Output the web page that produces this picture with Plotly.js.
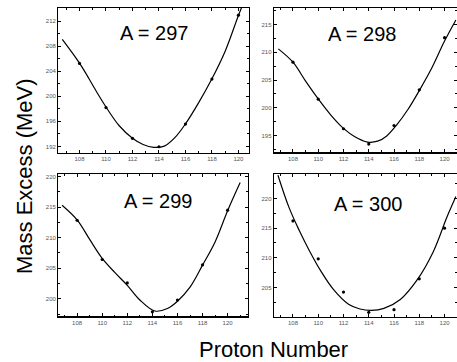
<!DOCTYPE html>
<html>
<head>
<meta charset="utf-8">
<script src="https://cdn.plot.ly/plotly-3.0.1.min.js"></script>
<style>html,body{margin:0;padding:0;overflow:hidden;background:#fff}</style>
</head>
<body>
<div id="chart" style="width:457px;height:362px"></div>
<script>
// Data points (proton number vs mass excess in MeV)
const protonNumbers = [108, 110, 112, 114, 116, 118, 120];
const mass297 = [205.25, 198.2, 193.3, 191.95, 195.57, 202.75, 212.95];
const mass298 = [208.2, 201.56, 196.23, 193.48, 196.82, 203.23, 212.62];
const mass299 = [212.83, 206.42, 202.59, 197.87, 199.8, 205.55, 214.48];
const mass300 = [216.21, 209.84, 204.25, 200.83, 201.28, 206.48, 214.99];

// Fitted curves
const fit297X = [106.7, 107.5, 108.3, 109.1, 110.0, 111.0, 112.0, 112.8, 113.6, 114.4, 115.2, 116.0, 117.0, 118.0, 119.0, 120.0, 120.4];
const fit297Y = [209.1, 206.8, 204.3, 201.4, 198.3, 195.3, 193.3, 192.3, 191.85, 192.05, 193.4, 195.6, 199.0, 202.8, 207.2, 212.9, 215.0];
const fit298X = [106.84, 108.0, 109.0, 110.0, 111.0, 112.0, 112.9, 113.9, 114.7, 115.4, 116.2, 117.1, 118.0, 119.0, 120.0, 120.9];
const fit298Y = [210.6, 208.2, 204.8, 201.6, 198.7, 196.3, 194.8, 193.84, 194.0, 194.9, 196.9, 199.7, 203.1, 207.2, 212.0, 215.8];
const fit299X = [106.8, 108.0, 109.0, 110.0, 111.0, 112.0, 113.0, 114.2, 115.2, 116.0, 117.0, 118.0, 119.0, 120.0, 121.0];
const fit299Y = [215.3, 212.9, 209.7, 206.6, 204.3, 202.2, 199.8, 198.0, 198.4, 199.6, 201.9, 205.5, 209.3, 214.4, 219.0];
const fit300X = [106.81, 107.7, 108.5, 109.3, 110.2, 111.2, 112.4, 113.3, 114.2, 115.2, 116.5, 117.8, 119.1, 120.2, 120.9];
const fit300Y = [223.9, 218.4, 214.6, 211.2, 207.8, 204.7, 202.2, 201.4, 201.16, 201.5, 203.0, 206.2, 211.0, 216.9, 220.3];

const panelLabels = ['A = 297', 'A = 298', 'A = 299', 'A = 300'];
const xTitle = 'Proton Number';
const yTitle = 'Mass Excess (MeV)';

const FONT = 'Liberation Sans, Arial, sans-serif';
const mass = [mass297, mass298, mass299, mass300];
const fitX = [fit297X, fit298X, fit299X, fit300X];
const fitY = [fit297Y, fit298Y, fit299Y, fit300Y];

const traces = [];
for (let i = 0; i < 4; i++) {
  const xa = i === 0 ? 'x' : 'x' + (i + 1);
  const ya = i === 0 ? 'y' : 'y' + (i + 1);
  traces.push({
    x: fitX[i], y: fitY[i], xaxis: xa, yaxis: ya, type: 'scatter', mode: 'lines',
    line: {color: '#000', width: 1.2, shape: 'spline', smoothing: 1},
    hoverinfo: 'skip', showlegend: false
  });
  traces.push({
    x: protonNumbers, y: mass[i], xaxis: xa, yaxis: ya, type: 'scatter', mode: 'markers',
    marker: {color: '#000', size: 3.2},
    cliponaxis: true, showlegend: false
  });
}

function xAxis(domain, range, anchor) {
  return {
    domain: domain, range: range, anchor: anchor,
    tick0: 108, dtick: 2, ticks: 'inside', ticklen: 3, tickwidth: 1, tickcolor: '#000',
    minor: {dtick: 1, ticks: 'inside', ticklen: 1.8, tickcolor: '#000', tickwidth: 1},
    showline: true, linecolor: '#000', linewidth: 1.3, mirror: 'allticks',
    showgrid: false, zeroline: false,
    tickfont: {family: FONT, size: 6, color: '#555'}
  };
}
function yAxis(domain, range, anchor, tick0, dtick) {
  return {
    domain: domain, range: range, anchor: anchor,
    tick0: tick0, dtick: dtick, ticks: 'inside', ticklen: 3, tickwidth: 1, tickcolor: '#000',
    minor: {dtick: dtick / 2, ticks: 'inside', ticklen: 1.8, tickcolor: '#000', tickwidth: 1},
    showline: true, linecolor: '#000', linewidth: 1.3, mirror: 'allticks',
    showgrid: false, zeroline: false,
    tickfont: {family: FONT, size: 6, color: '#555'}
  };
}

const annPos = [[0.3363, 0.908], [0.7932, 0.906], [0.3457, 0.4453], [0.8042, 0.4365]];
const annotations = panelLabels.map((t, i) => ({
  text: t, xref: 'paper', yref: 'paper', x: annPos[i][0], y: annPos[i][1],
  xanchor: 'center', yanchor: 'middle', showarrow: false,
  font: {family: FONT, size: 20, color: '#000'}
}));
annotations.push({
  text: xTitle, xref: 'paper', yref: 'paper', x: 273 / 457, y: 1 - 349 / 362,
  xanchor: 'center', yanchor: 'middle', showarrow: false,
  font: {family: FONT, size: 22, color: '#000'}
});
annotations.push({
  text: yTitle, xref: 'paper', yref: 'paper', x: 24 / 457, y: 1 - 176 / 362,
  xanchor: 'center', yanchor: 'middle', showarrow: false, textangle: -90,
  font: {family: FONT, size: 22, color: '#000'}
});

const layout = {
  width: 457, height: 362,
  margin: {l: 0, r: 0, t: 0, b: 0},
  paper_bgcolor: '#fff', plot_bgcolor: '#fff',
  showlegend: false,
  xaxis: xAxis([0.1276, 0.5449], [106.4, 120.8], 'y'),
  yaxis: yAxis([0.5782, 0.9779], [191.0, 214.1], 'x', 192, 4),
  xaxis2: xAxis([0.5996, 0.999], [106.5, 120.95], 'y2'),
  yaxis2: yAxis([0.5793, 0.9771], [192.0, 217.9], 'x2', 195, 5),
  xaxis3: xAxis([0.1276, 0.5420], [106.5, 121.6], 'y3'),
  yaxis3: yAxis([0.1257, 0.5193], [197.1, 220.4], 'x3', 200, 5),
  xaxis4: xAxis([0.5996, 0.999], [106.5, 120.95], 'y4'),
  yaxis4: yAxis([0.1251, 0.5193], [200.1, 224.1], 'x4', 205, 5),
  annotations: annotations
};

Plotly.newPlot('chart', traces, layout, {staticPlot: true, displayModeBar: false});
</script>
</body>
</html>
